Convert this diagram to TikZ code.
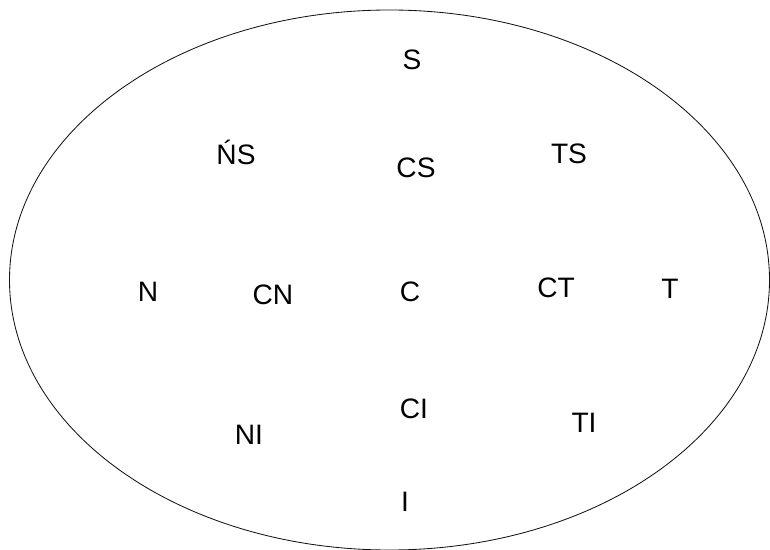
\documentclass[tikz,border=0pt]{standalone}
\usepackage{fontspec}
\setmainfont{Liberation Sans}
\usepackage{tikz}
\usetikzlibrary{positioning}
\definecolor{mydark}{RGB}{20,20,20}
\tikzset{
  region/.style={draw=mydark, line width=0.6pt},
  lbl/.style={anchor=base, inner sep=0pt, font=\fontsize{20}{24}\selectfont, text=black}
}
\begin{document}
\begin{tikzpicture}[x=0.025cm, y=-0.025cm]
  \useasboundingbox (0,0) rectangle (770,550);

  % Outer ellipse
  \draw[region] (389.5,280) ellipse [x radius=380, y radius=270];

  % Top row
  \node[lbl] (s)  at (412,70)  {S};
  \node[lbl] (ns) at (236,165) {ŃS};
  \node[lbl] (cs) at (416,177.5) {CS};
  \node[lbl] (ts) at (569,164) {TS};

  % Middle row
  \node[lbl] (n)  at (148,302) {N};
  \node[lbl] (cn) at (273,304.5) {CN};
  \node[lbl] (c)  at (410,301.5) {C};
  \node[lbl] (ct) at (556,297.5) {CT};
  \node[lbl] (t)  at (670,299) {T};

  % Bottom row
  \node[lbl] (ci) at (414,418) {CI};
  \node[lbl] (ni) at (249,444) {NI};
  \node[lbl] (ti) at (584,432) {TI};
  \node[lbl] (i)  at (405,511) {I};
\end{tikzpicture}
\end{document}
